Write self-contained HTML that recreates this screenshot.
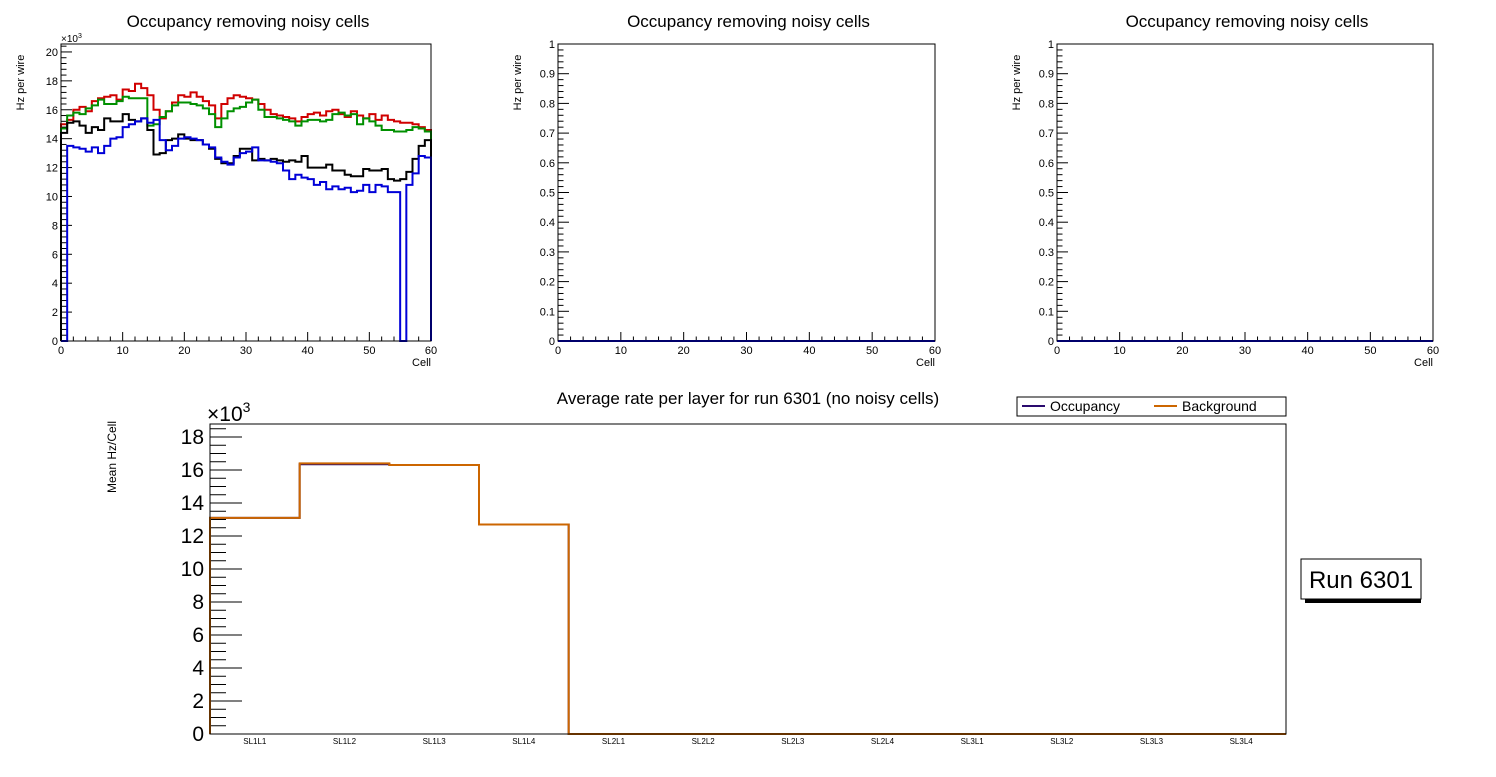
<!DOCTYPE html>
<html><head><meta charset="utf-8"><style>
body{margin:0;background:#fff;width:1496px;height:772px;overflow:hidden}
svg{font-family:"Liberation Sans",sans-serif}
</style></head><body>
<svg id="c" width="1496" height="772" xmlns="http://www.w3.org/2000/svg"></svg>
<script>
const cells = Array.from({length:60},(_,i)=>i);
const redVals=[15.0,15.3,16.0,16.2,15.9,16.6,16.8,16.9,17.0,16.7,17.4,17.3,17.8,17.5,17.0,16.0,15.4,15.9,16.5,17.0,16.9,17.2,16.9,16.6,16.3,15.4,16.4,16.8,17.0,16.9,16.8,16.7,16.4,16.0,15.7,15.6,15.5,15.4,15.2,15.5,15.7,15.8,15.6,15.9,16.0,15.7,15.5,15.9,15.6,15.4,15.7,15.3,15.6,15.3,15.2,15.1,15.1,15.0,14.8,14.6];
const greenVals=[14.7,15.6,15.8,15.7,16.1,16.3,16.7,16.4,16.4,16.6,16.9,16.8,16.8,16.8,14.9,15.0,15.5,15.9,16.3,16.5,16.5,16.4,16.3,16.1,15.7,14.8,15.4,15.9,16.1,16.2,16.5,16.7,16.0,15.5,15.5,15.4,15.3,15.2,14.9,15.2,15.3,15.3,15.2,15.3,15.7,15.8,15.6,15.7,15.0,15.4,15.2,14.9,14.6,14.6,14.5,14.5,14.6,14.8,14.7,14.5];
const blackVals=[14.4,15.1,15.2,14.9,14.4,14.8,14.6,15.4,15.2,15.2,15.7,15.3,15.2,15.4,14.6,12.9,13.0,13.9,14.0,14.3,14.0,13.9,13.9,13.6,13.3,12.6,12.3,12.3,12.8,13.3,13.3,12.5,12.6,12.5,12.6,12.5,12.4,12.5,12.4,12.8,12.0,12.0,12.0,12.2,11.8,11.8,11.5,11.4,11.4,11.9,11.8,11.8,11.9,11.2,11.1,11.2,11.7,12.6,13.5,13.9];
const blueVals=[0,13.5,13.4,13.3,13.1,13.4,13.0,13.5,14.0,14.1,14.8,15.0,15.2,15.4,15.1,15.3,13.9,13.2,13.5,14.0,14.1,14.0,13.9,13.6,13.4,12.7,12.4,12.2,12.7,13.0,13.1,13.4,12.5,12.5,12.4,12.3,11.8,11.2,11.5,11.3,11.2,10.8,11.0,10.5,10.7,10.5,10.6,10.3,10.4,10.8,10.3,10.8,10.7,10.3,10.3,0,10.8,11.6,12.8,12.7];
const layers=["SL1L1","SL1L2","SL1L3","SL1L4","SL2L1","SL2L2","SL2L3","SL2L4","SL3L1","SL3L2","SL3L3","SL3L4"];
const bkgVals=[13.1,16.4,16.3,12.7,0,0,0,0,0,0,0,0];
const occVals=[13.1,16.35,16.3,12.7,0,0,0,0,0,0,0,0];
const xTicks=[0,10,20,30,40,50,60];
const yTicksK=[0,2,4,6,8,10,12,14,16,18,20];
const yTicks01=[0,0.1,0.2,0.3,0.4,0.5,0.6,0.7,0.8,0.9,1];
const yTicksBot=[0,2,4,6,8,10,12,14,16,18];

const svg=document.getElementById('c');
const NS="http://www.w3.org/2000/svg";
function mk(tag,attrs,parent){const e=document.createElementNS(NS,tag);for(const k in attrs)e.setAttribute(k,attrs[k]);(parent||svg).appendChild(e);return e;}
function txt(x,y,s,size,anchor,parent){const t=mk('text',{x:x,y:y,'font-size':size,'text-anchor':anchor||'start',fill:'#000'},parent);t.textContent=s;return t;}

function histPath(vals,X,Y,n){let d='M'+X(0)+','+Y(0);for(let i=0;i<n;i++){d+=' L'+X(i)+','+Y(vals[i])+' L'+X(i+1)+','+Y(vals[i]);}d+=' L'+X(n)+','+Y(0);return d;}

function smallPlot(x0,x1,yTop,yBot,ymax,ticks,labelFmt,series,name,expo){
  const g=mk('g',{});
  
  
  const X=v=>x0+(x1-x0)*v/60;
  const Y=v=>yBot-(yBot-yTop)*v/ymax;
  const t=txt((x0+x1)/2+2,27,'Occupancy removing noisy cells',17,'middle',g);
  
  const yl=txt(0,0,'Hz per wire',11,'middle',g);
  yl.setAttribute('transform','translate('+(x0-37)+','+((yTop+yBot)/2-110)+') rotate(-90)');
  
  const xl=txt(x1,366,'Cell',11,'end',g);
  
  for(let v=0;v<=60;v+=2){const big=v%10===0;mk('line',{x1:X(v),x2:X(v),y1:yBot,y2:yBot-(big?9:4.5),stroke:'#000'},g);}
  xTicks.forEach(v=>txt(X(v),354,String(v),11,'middle',g));
  const step=ticks[1]-ticks[0];
  for(let v=0;v<=ymax+1e-9;v+=step/5){const r=Math.abs(v/step-Math.round(v/step))<1e-6;mk('line',{x1:x0,x2:x0+(r?11:5.5),y1:Y(v),y2:Y(v),stroke:'#000'},g);}
  ticks.forEach(v=>txt(x0-3,Y(v)+4,labelFmt(v),11,'end',g));
  if(expo){const e=txt(x0,42,'×10',10,'start',g);const s=mk('tspan',{dy:-4,'font-size':7},e);s.textContent='3';}
  series.forEach(s=>{const p=mk('path',{d:histPath(s.v,X,Y,60),fill:'none',stroke:s.c,'stroke-width':2},g);});
  mk('rect',{x:x0,y:yTop,width:x1-x0,height:yBot-yTop,fill:'none',stroke:'#000'},g);
}
smallPlot(61,431,44,341,20.55,yTicksK,v=>String(v),[
 {v:redVals,c:'#d00000',n:'series-red'},{v:greenVals,c:'#009000',n:'series-green'},
 {v:blackVals,c:'#000',n:'series-black'},{v:blueVals,c:'#0000d8',n:'series-blue'}],'plot-occupancy-1',true);
const zeros=cells.map(()=>0);
smallPlot(558,935,44,341,1,yTicks01,v=>String(+v.toFixed(1)),[{v:zeros,c:'#0000d8',n:'series-blue'}],'plot-occupancy-2',false);
smallPlot(1057,1433,44,341,1,yTicks01,v=>String(+v.toFixed(1)),[{v:zeros,c:'#0000d8',n:'series-blue'}],'plot-occupancy-3',false);

(function(){
  const g=mk('g',{});
  
  
  const x0=210,x1=1286,yTop=424,yBot=734;
  const n=layers.length;
  const X=i=>x0+(x1-x0)*i/n;
  const Y=v=>yBot-16.5*v;
  const t=txt(748,404,'Average rate per layer for run 6301 (no noisy cells)',17,'middle',g);
  
  const yl=txt(0,0,'Mean Hz/Cell',12,'middle',g);
  yl.setAttribute('transform','translate(116,457) rotate(-90)');
  
  for(let v=0;v<=18.7;v+=0.5){const r=Math.abs(v-Math.round(v/2)*2)<1e-6;mk('line',{x1:x0,x2:x0+(r?32:16),y1:Y(v),y2:Y(v),stroke:'#000'},g);}
  yTicksBot.forEach(v=>txt(x0-6,Y(v)+7,String(v),21,'end',g));
  const e=txt(207,421,'×10',21,'start',g);const s=mk('tspan',{dy:-9,'font-size':14},e);s.textContent='3';
  layers.forEach((l,i)=>{const tt=txt(X(i+0.5),744,l,8,'middle',g);});
  const po=mk('path',{d:histPath(occVals,X,Y,n),fill:'none',stroke:'#2a0a6e','stroke-width':2},g);
  
  const pb=mk('path',{d:histPath(bkgVals,X,Y,n),fill:'none',stroke:'#cc6600','stroke-width':2},g);
  
  mk('rect',{x:x0,y:yTop,width:x1-x0,height:yBot-yTop,fill:'none',stroke:'#000'},g);
  const lg=mk('g',{},g);
  
  mk('rect',{x:1017,y:397,width:269,height:19,fill:'#fff',stroke:'#000'},lg);
  mk('line',{x1:1022,x2:1045,y1:406,y2:406,stroke:'#2a0a6e','stroke-width':2},lg);
  txt(1050,411,'Occupancy',14,'start',lg);
  mk('line',{x1:1154,x2:1177,y1:406,y2:406,stroke:'#cc6600','stroke-width':2},lg);
  txt(1182,411,'Background',14,'start',lg);
  const rb=mk('g',{},g);
  
  mk('rect',{x:1305,y:563,width:116,height:40,fill:'#000'},rb);
  mk('rect',{x:1301,y:559,width:120,height:40,fill:'#fff',stroke:'#000'},rb);
  txt(1361,588,'Run 6301',24,'middle',rb);
})();
</script>
</body></html>
